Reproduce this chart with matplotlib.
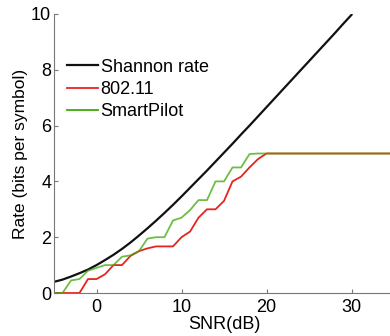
import matplotlib
matplotlib.use('Agg')
import matplotlib.pyplot as plt

plt.rcParams['font.family'] = ['Liberation Sans', 'DejaVu Sans']

# SNR grid (dB)
snr_db = list(range(-5, 36))

# Shannon capacity, SNR from -5 to 30 dB
shannon_snr = list(range(-5, 31))
shannon_rate = [0.40, 0.48, 0.59, 0.71, 0.84, 1.00, 1.18, 1.37, 1.58, 1.81,
                2.06, 2.32, 2.59, 2.87, 3.16, 3.46, 3.77, 4.08, 4.39, 4.71,
                5.03, 5.35, 5.68, 6.00, 6.33, 6.66, 6.99, 7.32, 7.65, 7.98,
                8.31, 8.64, 8.97, 9.30, 9.64, 9.97]

rate_80211 = [0, 0, 0, 0, 0.5, 0.5, 0.67, 1.0, 1.0, 1.33,
              1.5, 1.6, 1.67, 1.67, 1.67, 2.0, 2.2, 2.7, 3.0, 3.0,
              3.3, 4.0, 4.17, 4.5, 4.8] + [5.0] * 16

rate_smartpilot = [0, 0, 0.45, 0.5, 0.8, 0.9, 1.0, 1.0, 1.3, 1.35,
                   1.5, 1.95, 2.0, 2.0, 2.6, 2.7, 2.97, 3.33, 3.33, 4.0,
                   4.0, 4.5, 4.5, 4.98, 5.0] + [5.0] * 16

fig = plt.figure(figsize=(3.9, 3.36), dpi=100)
ax = fig.add_axes([54 / 390, 43 / 336, 340 / 390, 279 / 336])

ax.plot(shannon_snr, shannon_rate, color='#111111', lw=1.6, label='Shannon rate')
ax.plot(snr_db, rate_80211, color='#e8231f', lw=1.3, label='802.11')
ax.plot(snr_db, rate_smartpilot, color='#3ea808', lw=1.3, alpha=0.75,
        label='SmartPilot')

ax.set_xlim(-5, 35)
ax.set_ylim(0, 10)
ax.set_xticks([0, 10, 20, 30])
ax.set_yticks([0, 2, 4, 6, 8, 10])
ax.tick_params(direction='in', length=3, width=0.8, color='#777777',
               labelsize=13)
ax.tick_params(axis='x', pad=4)
ax.tick_params(axis='y', pad=2)
for side in ['top', 'right']:
    ax.spines[side].set_visible(False)
for side in ['left', 'bottom']:
    ax.spines[side].set_color('#777777')
    ax.spines[side].set_linewidth(0.8)

ax.set_xlabel('SNR(dB)', fontsize=13, labelpad=0)
ax.set_ylabel('Rate (bits per symbol)', fontsize=12.5, labelpad=2)

leg = ax.legend(loc='upper left', bbox_to_anchor=(0.039, 0.84), frameon=False,
                fontsize=13, handlelength=1.7, handletextpad=0.15,
                labelspacing=0.3, borderpad=0, borderaxespad=0)
for line in leg.get_lines():
    line.set_alpha(1)

fig.savefig('out.png', dpi=100)
